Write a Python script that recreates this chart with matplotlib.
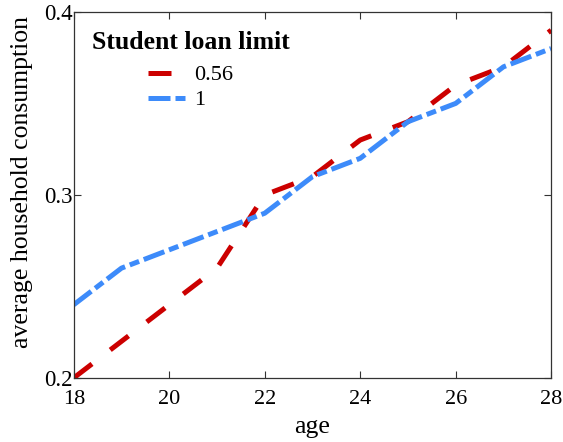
import numpy as np
from matplotlib import pyplot as plt

plt.rcParams['font.family'] = ['Liberation Serif', 'DejaVu Serif']

age = [18, 19, 20, 21, 22, 23, 24, 25, 26, 27, 28]
cons_056 = [0.20, 0.22, 0.24, 0.26, 0.30, 0.31, 0.33, 0.34, 0.36, 0.37, 0.39]
cons_1 = [0.24, 0.26, 0.27, 0.28, 0.29, 0.31, 0.32, 0.34, 0.35, 0.37, 0.38]
labels = ['0.56', '1']
x_ticks = [18, 20, 22, 24, 26, 28]
y_ticks = [0.2, 0.3, 0.4]


def main():
    fig = plt.figure(figsize=(5.63, 4.42), dpi=100)
    ax = fig.add_axes([0.131, 0.145, 0.848, 0.828])

    ax.plot(age, cons_056, color='#cc0000', lw=3.6, dashes=(4.6, 4.6),
            label=labels[0], dash_capstyle='butt')
    ax.plot(age, cons_1, color='#3d8bfa', lw=3.6, dashes=(4.4, 1.0, 2.0, 1.0),
            label=labels[1], dash_capstyle='butt')

    ax.set_xlim(18, 28)
    ax.set_ylim(0.2, 0.4)
    ax.set_xticks(x_ticks)
    ax.set_yticks(y_ticks)
    ax.set_yticklabels(['0.2', '0.3', '0.4'])
    ax.tick_params(direction='in', top=True, right=True,
                   length=5, width=0.8, color='#333333')
    ax.tick_params(axis='x', labelsize=16, pad=9)
    ax.tick_params(axis='y', labelsize=16.5, pad=1)
    for s in ax.spines.values():
        s.set_color('#333333')
        s.set_linewidth(0.9)

    ax.set_xlabel('age', fontsize=18.5, labelpad=5)
    ax.set_ylabel('average household consumption', fontsize=18.5)
    ax.yaxis.set_label_coords(-0.085, 0.535)

    leg = ax.legend(title='Student loan limit', loc='upper left',
                    frameon=False, fontsize=16, handlelength=1.8,
                    handletextpad=0.3, borderaxespad=0.0,
                    labelspacing=0.2, bbox_to_anchor=(0.019, 0.971))
    leg.get_title().set_fontweight('bold')
    leg.get_title().set_fontsize(18.5)
    leg._legend_box.sep = 7.5

    plt.savefig('out.png', dpi=100)


if __name__ == '__main__':
    main()
